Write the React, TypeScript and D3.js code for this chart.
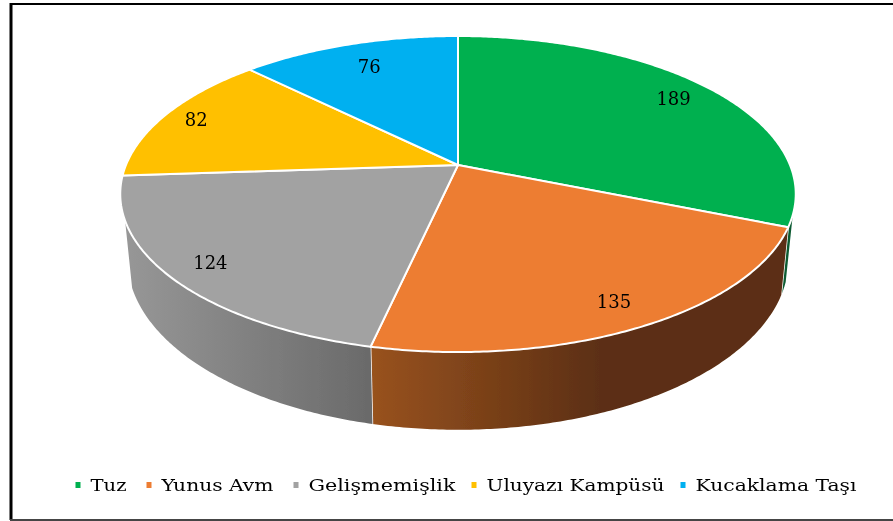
import React, { useEffect, useRef } from 'react';
import * as d3 from 'd3';

const categories = ['Tuz', 'Yunus Avm', 'Gelişmemişlik', 'Uluyazı Kampüsü', 'Kucaklama Taşı'];
const values = [189, 135, 124, 82, 76];
const colors = ['#00B050', '#ED7D31', '#A2A2A2', '#FFC000', '#00B0F0'];

const W = 893;
const H = 521;

// perspective of the tilted disc
const k = 0.1837;
const cx = 458;
const topFace = { cy: 165, rx: 332, ry: 152.7 };
const bottomFace = { cy: 228, rx: 325, ry: 164.7 };

// part of the rim that faces the viewer (clockwise from 12 o'clock)
const rimStart = (108 * Math.PI) / 180;
const rimEnd = (250 * Math.PI) / 180;

const project = (face: typeof topFace, angle: number, r = 1): [number, number] => {
  const x = r * Math.sin(angle);
  const y = -r * Math.cos(angle);
  const w = 1 - k * y;
  return [cx + (face.rx * x) / w, face.cy + (face.ry * y) / w];
};

const arcPoints = (face: typeof topFace, a0: number, a1: number) => {
  const n = Math.max(2, Math.ceil((a1 - a0) / 0.01));
  return d3.range(n + 1).map((i) => project(face, a0 + ((a1 - a0) * i) / n));
};

const App = () => {
  const svgRef = useRef<SVGSVGElement>(null);

  useEffect(() => {
    const svg = d3.select(svgRef.current);
    svg.selectAll('*').remove();

    const defs = svg.append('defs');
    defs.append('filter').attr('id', 'soft')
      .append('feGaussianBlur').attr('stdDeviation', 0.45);

    const addGradient = (id: string, x1: number, x2: number, from: string, to: string) => {
      const g = defs.append('linearGradient').attr('id', id)
        .attr('gradientUnits', 'userSpaceOnUse')
        .attr('x1', x1).attr('x2', x2).attr('y1', 0).attr('y2', 0);
      g.append('stop').attr('offset', 0).attr('stop-color', from);
      g.append('stop').attr('offset', 1).attr('stop-color', to);
    };
    addGradient('wall0', 780, 795, '#0A5A30', '#0A5A30');
    addGradient('wall1', 372, 600, '#98521F', '#5C2F12');
    addGradient('wall2', 125, 372, '#979797', '#6A6A6A');

    // frame, open on the right
    const frame = svg.append('g').attr('filter', 'url(#soft)');
    frame.append('line').attr('x1', 11).attr('x2', W).attr('y1', 4).attr('y2', 4)
      .attr('stroke', '#000').attr('stroke-width', 2);
    frame.append('line').attr('x1', 11).attr('x2', 11).attr('y1', 3).attr('y2', 520)
      .attr('stroke', '#000').attr('stroke-width', 3);
    frame.append('line').attr('x1', 10).attr('x2', W).attr('y1', 520).attr('y2', 520)
      .attr('stroke', '#444').attr('stroke-width', 2);

    const pie = d3.pie<number>().sort(null).value((d) => d);
    const slices = pie(values);
    const line = d3.line();
    const chart = svg.append('g').attr('filter', 'url(#soft)');

    // side walls
    slices.forEach((s, i) => {
      const a0 = Math.max(s.startAngle, rimStart);
      const a1 = Math.min(s.endAngle, rimEnd);
      if (a1 <= a0) return;
      const pts = [...arcPoints(topFace, a0, a1), ...arcPoints(bottomFace, a0, a1).reverse()];
      chart.append('path')
        .attr('d', line(pts) + 'Z')
        .attr('fill', `url(#wall${i})`);
      // white seam where one wall meets the next
      if (i < 2) {
        const seamTop = project(topFace, a1);
        const seamBottom = project(bottomFace, a1);
        chart.append('line')
          .attr('x1', seamTop[0]).attr('y1', seamTop[1])
          .attr('x2', seamBottom[0]).attr('y2', seamBottom[1])
          .attr('stroke', '#fff').attr('stroke-width', 1.5);
      }
    });

    // top faces
    slices.forEach((s, i) => {
      const pts = [[cx, topFace.cy] as [number, number], ...arcPoints(topFace, s.startAngle, s.endAngle)];
      chart.append('path')
        .attr('d', line(pts) + 'Z')
        .attr('fill', colors[i])
        .attr('stroke', '#fff')
        .attr('stroke-width', 2)
        .attr('stroke-linejoin', 'round');
    });

    // value labels
    const labelRadius = [0.85, 0.87, 0.88, 0.89, 0.79];
    slices.forEach((s, i) => {
      const [x, y] = project(topFace, (s.startAngle + s.endAngle) / 2, labelRadius[i]);
      chart.append('text')
        .attr('x', x).attr('y', y).attr('dy', '0.35em')
        .attr('text-anchor', 'middle')
        .attr('font-family', '"DejaVu Serif", serif')
        .attr('font-size', 18)
        .attr('fill', '#000')
        .text(values[i]);
    });

    // legend
    const legendX = [78, 149, 296, 474, 683];
    const legendWidth = [36, 112, 147, 178, 161];
    const legend = svg.append('g').attr('filter', 'url(#soft)');
    categories.forEach((c, i) => {
      legend.append('rect')
        .attr('x', legendX[i] - 2.5).attr('y', 482).attr('width', 5).attr('height', 6)
        .attr('fill', colors[i]);
      legend.append('text')
        .attr('x', legendX[i] + 12.5).attr('y', 491)
        .attr('font-family', '"DejaVu Serif", serif')
        .attr('font-size', 17)
        .attr('textLength', legendWidth[i])
        .attr('lengthAdjust', 'spacingAndGlyphs')
        .attr('fill', '#000')
        .text(c);
    });
  }, []);

  return (
    <svg
      ref={svgRef}
      width={W}
      height={H}
      style={{ position: 'fixed', left: 0, top: 0, background: '#fff' }}
    />
  );
};

export default App;
